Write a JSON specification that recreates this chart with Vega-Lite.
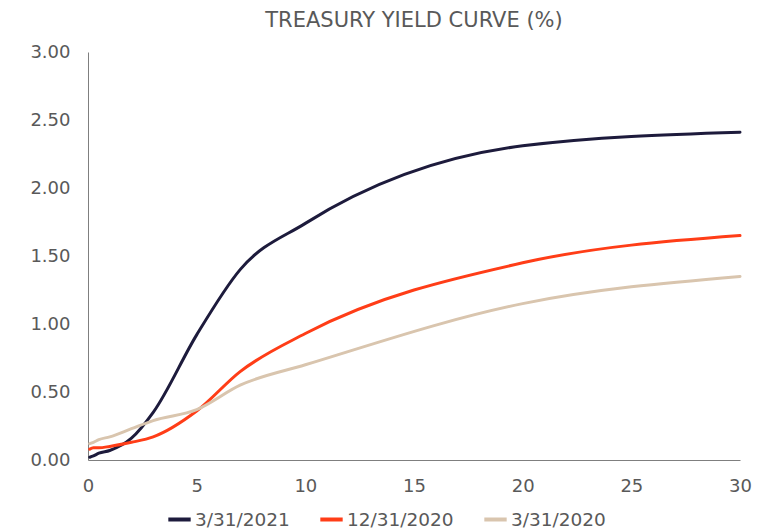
{
  "$schema": "https://vega.github.io/schema/vega-lite/v6.json",
  "width": 652,
  "height": 408,
  "autosize": {"type": "none"},
  "padding": {"left": 88, "top": 52, "right": 21, "bottom": 70},
  "background": "white",
  "title": {
    "text": "TREASURY YIELD CURVE (%)",
    "font": "DejaVu Sans",
    "fontSize": 21,
    "fontWeight": "normal",
    "color": "#595959",
    "anchor": "middle",
    "offset": 12
  },
  "config": {
    "view": {"stroke": null},
    "font": "DejaVu Sans"
  },
  "data": {
    "values": [
      {"maturity": 0.08, "yield": 0.02, "date": "3/31/2021"},
      {"maturity": 0.25, "yield": 0.03, "date": "3/31/2021"},
      {"maturity": 0.5, "yield": 0.05, "date": "3/31/2021"},
      {"maturity": 1, "yield": 0.07, "date": "3/31/2021"},
      {"maturity": 2, "yield": 0.16, "date": "3/31/2021"},
      {"maturity": 3, "yield": 0.35, "date": "3/31/2021"},
      {"maturity": 5, "yield": 0.92, "date": "3/31/2021"},
      {"maturity": 7, "yield": 1.40, "date": "3/31/2021"},
      {"maturity": 10, "yield": 1.74, "date": "3/31/2021"},
      {"maturity": 20, "yield": 2.31, "date": "3/31/2021"},
      {"maturity": 30, "yield": 2.41, "date": "3/31/2021"},
      {"maturity": 0.08, "yield": 0.08, "date": "12/31/2020"},
      {"maturity": 0.25, "yield": 0.09, "date": "12/31/2020"},
      {"maturity": 0.5, "yield": 0.09, "date": "12/31/2020"},
      {"maturity": 1, "yield": 0.10, "date": "12/31/2020"},
      {"maturity": 2, "yield": 0.13, "date": "12/31/2020"},
      {"maturity": 3, "yield": 0.17, "date": "12/31/2020"},
      {"maturity": 5, "yield": 0.36, "date": "12/31/2020"},
      {"maturity": 7, "yield": 0.65, "date": "12/31/2020"},
      {"maturity": 10, "yield": 0.93, "date": "12/31/2020"},
      {"maturity": 20, "yield": 1.45, "date": "12/31/2020"},
      {"maturity": 30, "yield": 1.65, "date": "12/31/2020"},
      {"maturity": 0.08, "yield": 0.12, "date": "3/31/2020"},
      {"maturity": 0.25, "yield": 0.13, "date": "3/31/2020"},
      {"maturity": 0.5, "yield": 0.15, "date": "3/31/2020"},
      {"maturity": 1, "yield": 0.17, "date": "3/31/2020"},
      {"maturity": 2, "yield": 0.23, "date": "3/31/2020"},
      {"maturity": 3, "yield": 0.29, "date": "3/31/2020"},
      {"maturity": 5, "yield": 0.37, "date": "3/31/2020"},
      {"maturity": 7, "yield": 0.55, "date": "3/31/2020"},
      {"maturity": 10, "yield": 0.70, "date": "3/31/2020"},
      {"maturity": 20, "yield": 1.15, "date": "3/31/2020"},
      {"maturity": 30, "yield": 1.35, "date": "3/31/2020"}
    ]
  },
  "mark": {"type": "line", "interpolate": "monotone", "strokeWidth": 3, "strokeCap": "round"},
  "encoding": {
    "x": {
      "field": "maturity",
      "type": "quantitative",
      "scale": {"domain": [0, 30], "nice": false},
      "axis": {
        "title": null,
        "values": [0, 5, 10, 15, 20, 25, 30],
        "grid": false,
        "ticks": false,
        "labelFlush": false,
        "labelOverlap": false,
        "domainColor": "#7f7f7f",
        "domainWidth": 1,
        "labelFontSize": 18,
        "labelColor": "#595959",
        "labelPadding": 17,
        "labelFont": "DejaVu Sans"
      }
    },
    "y": {
      "field": "yield",
      "type": "quantitative",
      "scale": {"domain": [0, 3], "nice": false},
      "axis": {
        "title": null,
        "values": [0, 0.5, 1, 1.5, 2, 2.5, 3],
        "format": ".2f",
        "grid": false,
        "ticks": false,
        "labelFlush": false,
        "domainColor": "#7f7f7f",
        "domainWidth": 1,
        "labelFontSize": 18,
        "labelColor": "#595959",
        "labelPadding": 18,
        "labelFont": "DejaVu Sans"
      }
    },
    "color": {
      "field": "date",
      "type": "nominal",
      "scale": {
        "domain": ["3/31/2021", "12/31/2020", "3/31/2020"],
        "range": ["#1d1b3c", "#ff3d17", "#d9c5ae"]
      },
      "legend": {
        "title": null,
        "orient": "none",
        "direction": "horizontal",
        "legendX": 78,
        "legendY": 454,
        "symbolType": "stroke",
        "symbolStrokeWidth": 4,
        "symbolSize": 500,
        "labelFontSize": 18.5,
        "labelColor": "#595959",
        "labelFont": "DejaVu Sans",
        "labelOffset": 2,
        "columnPadding": 22
      }
    }
  }
}
